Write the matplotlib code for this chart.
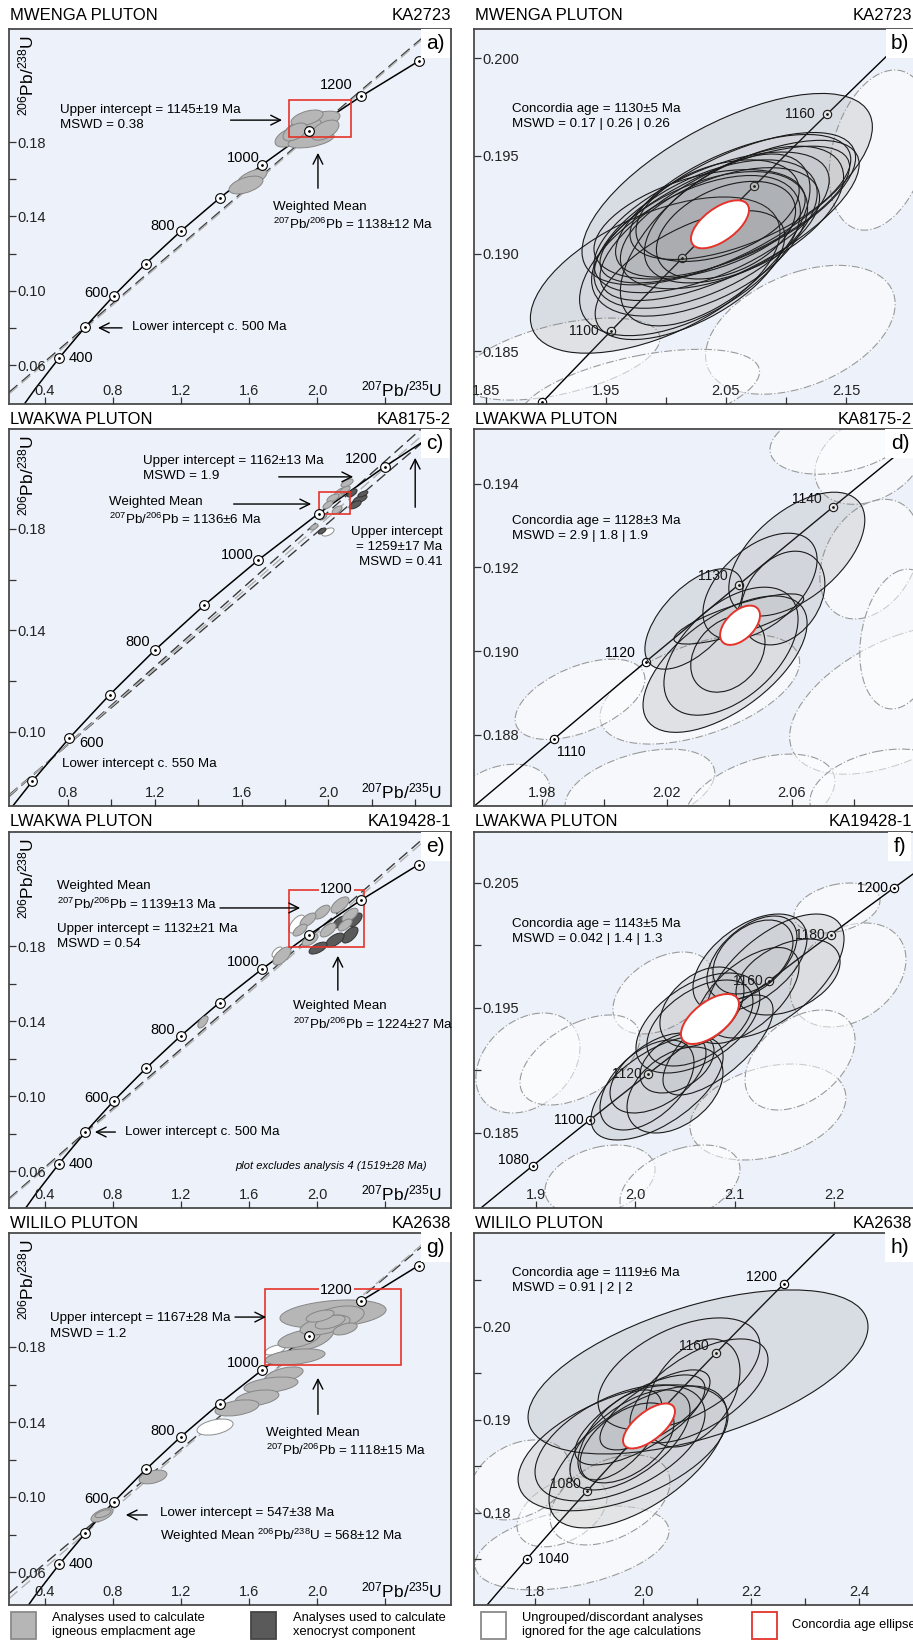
import numpy as np
import matplotlib
matplotlib.use("Agg")
import matplotlib.pyplot as plt
from matplotlib.patches import Ellipse, Rectangle, PathPatch
from matplotlib.path import Path

plt.rcParams["font.family"] = ["Liberation Sans Narrow", "Liberation Sans", "DejaVu Sans"]
plt.rcParams["mathtext.default"] = "regular"

W, H = 913, 1650
BG = "#edf2fa"
GREY = "#b6b6b6"
DARK = "#5a5a5a"
RED = "#e5332a"
FS = 9.6  # annotation size

# -----------------------------
# concordia (age in Ma, 207Pb/235U, 206Pb/238U)
# -----------------------------
CONC_AGES = [200, 300, 400, 500, 600, 700, 800, 900, 1000, 1100, 1200, 1300]
CONC_X = [0.2177, 0.3437, 0.4828, 0.6363, 0.8056, 0.9925, 1.1987, 1.4263, 1.6774, 1.9545, 2.2603, 2.5977]
CONC_Y = [0.03151, 0.04764, 0.06402, 0.08065, 0.09754, 0.11470, 0.13213, 0.14983, 0.16780, 0.18606, 0.20460, 0.22344]

FINE_AGES = [1000, 1020, 1040, 1050, 1060, 1070, 1080, 1090, 1100, 1110, 1120, 1130, 1140,
             1150, 1160, 1170, 1180, 1190, 1200, 1220, 1240, 1260, 1280]
FINE_X = [1.6774, 1.7307, 1.7850, 1.8126, 1.8404, 1.8685, 1.8969, 1.9256, 1.9545, 1.9838, 2.0133, 2.0431, 2.0732,
          2.1037, 2.1344, 2.1654, 2.1967, 2.2284, 2.2603, 2.3252, 2.3913, 2.4588, 2.5276]
FINE_Y = [0.16780, 0.17143, 0.17507, 0.17690, 0.17873, 0.18056, 0.18239, 0.18422, 0.18606, 0.18790, 0.18975, 0.19159, 0.19344,
          0.19530, 0.19715, 0.19901, 0.20087, 0.20274, 0.20460, 0.20835, 0.21210, 0.21587, 0.21964]

# discordia chords (lower intercept point, upper intercept point)
A_LINES = [((0.6363, 0.08065), (2.0884, 0.19437), "#3a3a3a"), ((0.6044, 0.0773), (2.1344, 0.19715), "#b0b0b0")]
C_LINES = [((0.7189, 0.08906), (2.1406, 0.19752), "#3a3a3a"), ((0.7189, 0.08906), (2.4554, 0.21568), "#3a3a3a"),
           ((0.7189, 0.08906), (2.3000, 0.20700), "#b0b0b0")]
E_LINES = [((0.6363, 0.08065), (2.0491, 0.19196), "#3a3a3a"), ((0.6044, 0.0773), (2.1344, 0.19715), "#b0b0b0")]
G_LINES = [((0.7138, 0.08856), (2.1560, 0.19845), "#3a3a3a"), ((0.6363, 0.08065), (2.1344, 0.19715), "#b0b0b0")]

# ellipses: (x, y, sx, sy, rho)
A_EMPL = [(1.618, 0.1607, 0.088, 0.0048, 0.6), (1.582, 0.1569, 0.100, 0.0048, 0.5),
          (1.988, 0.1902, 0.147, 0.0064, 0.6), (1.841, 0.1827, 0.088, 0.0054, 0.5),
          (1.965, 0.1811, 0.135, 0.0043, 0.5), (1.918, 0.1875, 0.106, 0.0054, 0.5),
          (2.047, 0.1864, 0.082, 0.0054, 0.5), (1.941, 0.1929, 0.094, 0.0043, 0.5),
          (1.871, 0.1854, 0.071, 0.0048, 0.5)]
A_BOX = (1.835, 0.1827, 2.200, 0.2026)

C_EMPL = [(2.054, 0.1942, 0.028, 0.0020, 0.6), (2.021, 0.1922, 0.028, 0.0016, 0.6),
          (2.077, 0.1954, 0.023, 0.0016, 0.6), (1.998, 0.1895, 0.023, 0.0016, 0.6),
          (2.086, 0.1981, 0.028, 0.0016, 0.6), (2.040, 0.1875, 0.023, 0.0016, 0.6),
          (1.975, 0.1847, 0.018, 0.0012, 0.6), (1.934, 0.1808, 0.018, 0.0012, 0.6)]
C_XENO = [(2.146, 0.1918, 0.032, 0.0016, 0.6), (2.123, 0.1895, 0.028, 0.0016, 0.6),
          (2.109, 0.1942, 0.023, 0.0016, 0.6), (2.159, 0.1938, 0.023, 0.0012, 0.6),
          (1.971, 0.1792, 0.018, 0.0012, 0.6)]
C_DISC = [(1.998, 0.1788, 0.028, 0.0016, 0.5)]
C_BOX = (1.957, 0.1859, 2.100, 0.1946)

E_EMPL = [(1.794, 0.1747, 0.053, 0.0048, 0.6), (1.329, 0.1395, 0.030, 0.0032, 0.6),
          (2.029, 0.1981, 0.047, 0.0037, 0.6), (2.135, 0.2019, 0.053, 0.0043, 0.6),
          (1.947, 0.1939, 0.047, 0.0037, 0.6), (2.194, 0.1965, 0.047, 0.0037, 0.6),
          (2.065, 0.1885, 0.047, 0.0037, 0.6), (2.165, 0.1912, 0.041, 0.0032, 0.6),
          (1.959, 0.1832, 0.047, 0.0032, 0.6), (1.900, 0.1885, 0.041, 0.0032, 0.6)]
E_XENO = [(2.194, 0.1859, 0.047, 0.0043, 0.6), (2.106, 0.1832, 0.053, 0.0037, 0.6),
          (2.006, 0.1789, 0.053, 0.0032, 0.6), (2.224, 0.1939, 0.041, 0.0037, 0.6),
          (2.135, 0.1928, 0.041, 0.0032, 0.6)]
E_DISC = [(1.882, 0.1917, 0.047, 0.0048, 0.6), (1.765, 0.1768, 0.030, 0.0027, 0.6)]
E_BOX = (1.835, 0.1795, 2.277, 0.2099)

G_EMPL = [(2.094, 0.1976, 0.312, 0.0075, 0.3), (2.118, 0.1955, 0.159, 0.0064, 0.4),
          (1.971, 0.1853, 0.129, 0.0069, 0.5), (1.894, 0.1843, 0.124, 0.0048, 0.5),
          (2.047, 0.1917, 0.147, 0.0053, 0.5), (2.077, 0.1933, 0.088, 0.0037, 0.5),
          (2.165, 0.1896, 0.071, 0.0032, 0.5), (2.018, 0.1965, 0.082, 0.0032, 0.5),
          (1.871, 0.1747, 0.176, 0.0043, 0.4), (1.806, 0.1651, 0.112, 0.0043, 0.5),
          (1.729, 0.1597, 0.159, 0.0043, 0.4), (1.647, 0.1528, 0.129, 0.0043, 0.4),
          (1.529, 0.1475, 0.129, 0.0043, 0.4), (1.035, 0.1107, 0.082, 0.0037, 0.4),
          (0.735, 0.0904, 0.065, 0.0037, 0.6), (0.741, 0.0911, 0.047, 0.0021, 0.6)]
G_DISC = [(1.400, 0.1373, 0.106, 0.0043, 0.4), (1.753, 0.1784, 0.059, 0.0027, 0.5)]
G_BOX = (1.694, 0.1704, 2.494, 0.2109)

B_EMPL = [(1.991, 0.1889, 0.104, 0.0040, 0.55), (2.051, 0.1933, 0.121, 0.0049, 0.65),
          (2.038, 0.1916, 0.098, 0.0036, 0.60), (2.033, 0.1910, 0.093, 0.0038, 0.55),
          (2.049, 0.1920, 0.104, 0.0035, 0.70), (2.028, 0.1905, 0.090, 0.0037, 0.50),
          (2.058, 0.1925, 0.100, 0.0037, 0.65), (2.045, 0.1913, 0.083, 0.0031, 0.50),
          (2.020, 0.1899, 0.092, 0.0041, 0.55), (2.062, 0.1929, 0.092, 0.0032, 0.60),
          (2.041, 0.1907, 0.079, 0.0044, 0.60), (2.053, 0.1917, 0.108, 0.0041, 0.70),
          (2.028, 0.1915, 0.088, 0.0028, 0.45), (2.065, 0.1920, 0.083, 0.0035, 0.55),
          (2.020, 0.1889, 0.079, 0.0033, 0.60), (2.043, 0.1922, 0.068, 0.0026, 0.40),
          (2.050, 0.1912, 0.058, 0.0025, 0.40)]
B_DISC = [(2.112, 0.1861, 0.079, 0.0033, 0.4), (1.912, 0.1846, 0.083, 0.0021, 0.5),
          (2.178, 0.1953, 0.042, 0.0041, 0.3), (1.978, 0.1828, 0.100, 0.0023, 0.5)]
B_RED = (2.045, 0.1915, 0.0242, 0.00123, 0.6)

D_EMPL = [(2.0617, 0.19232, 0.0218, 0.00148, 0.55), (2.0499, 0.19155, 0.0183, 0.00127, 0.50),
          (2.0287, 0.19077, 0.0157, 0.00120, 0.60), (2.0387, 0.18969, 0.0263, 0.00163, 0.60),
          (2.0406, 0.19000, 0.0215, 0.00153, 0.50), (2.0396, 0.18993, 0.0119, 0.00091, 0.30),
          (2.0572, 0.19127, 0.0135, 0.00112, 0.30), (2.0431, 0.19077, 0.0208, 0.00060, 0.80)]
D_DISC = [(2.0306, 0.18909, 0.0320, 0.00131, 0.5), (2.0851, 0.19459, 0.0176, 0.00108, 0.3),
          (2.0755, 0.19507, 0.0224, 0.00084, 0.3), (2.0947, 0.18885, 0.0353, 0.00179, 0.5),
          (2.0114, 0.18670, 0.0240, 0.00096, 0.4), (2.0499, 0.18646, 0.0240, 0.00108, 0.4),
          (1.9922, 0.18885, 0.0208, 0.00096, 0.5), (2.0883, 0.18670, 0.0224, 0.00096, 0.3),
          (1.9665, 0.18646, 0.0160, 0.00084, 0.3), (2.0851, 0.19220, 0.0160, 0.00143, 0.3),
          (2.0947, 0.19029, 0.0128, 0.00167, 0.2)]
D_RED = (2.0435, 0.19062, 0.0064, 0.00047, 0.5)

F_EMPL = [(2.1407, 0.19756, 0.0695, 0.00496, 0.6), (2.1155, 0.19860, 0.0574, 0.00392, 0.5),
          (2.1175, 0.19900, 0.0453, 0.00336, 0.5), (2.1538, 0.19748, 0.0524, 0.00304, 0.4),
          (2.1125, 0.19600, 0.0524, 0.00384, 0.6), (2.1185, 0.19908, 0.0403, 0.00296, 0.4),
          (2.0631, 0.19380, 0.0624, 0.00400, 0.5), (2.0651, 0.19380, 0.0534, 0.00344, 0.5),
          (2.0671, 0.19508, 0.0423, 0.00320, 0.4), (2.0833, 0.19204, 0.0554, 0.00400, 0.7),
          (2.0219, 0.18860, 0.0665, 0.00416, 0.6), (2.0118, 0.18884, 0.0473, 0.00360, 0.5),
          (2.0400, 0.18844, 0.0483, 0.00344, 0.4), (2.0229, 0.18980, 0.0483, 0.00320, 0.5),
          (2.0420, 0.19060, 0.0373, 0.00240, 0.4)]
F_DISC = [(1.8919, 0.19060, 0.0524, 0.00400, 0.3), (2.0279, 0.19620, 0.0504, 0.00328, 0.4),
          (2.2142, 0.19764, 0.0584, 0.00416, 0.3), (2.2031, 0.20300, 0.0433, 0.00200, 0.3),
          (2.1336, 0.18668, 0.0785, 0.00384, 0.3), (1.9645, 0.18124, 0.0554, 0.00280, 0.3),
          (2.0450, 0.18084, 0.0604, 0.00320, 0.4), (1.9443, 0.19084, 0.0604, 0.00360, 0.5),
          (2.1659, 0.19084, 0.0554, 0.00400, 0.4)]
F_RED = (2.0752, 0.19412, 0.0292, 0.0020, 0.6)

H_EMPL = [(2.1019, 0.19516, 0.3148, 0.00882, 0.55), (1.9630, 0.18700, 0.1944, 0.00677, 0.50),
          (1.9907, 0.18602, 0.1648, 0.00763, 0.60), (2.1037, 0.19312, 0.1278, 0.00559, 0.60),
          (2.0667, 0.19495, 0.1500, 0.00602, 0.50), (1.9574, 0.18753, 0.1574, 0.00624, 0.50),
          (1.9759, 0.18785, 0.1111, 0.00538, 0.60), (1.9704, 0.18753, 0.0870, 0.00430, 0.50),
          (2.0926, 0.19290, 0.0870, 0.00581, 0.40), (1.9944, 0.19000, 0.1204, 0.00484, 0.70),
          (2.0222, 0.19108, 0.1019, 0.00430, 0.70), (1.9574, 0.18839, 0.0778, 0.00484, 0.60)]
H_DISC = [(1.8685, 0.17624, 0.1796, 0.00452, 0.4), (1.8500, 0.18011, 0.0833, 0.00376, 0.4),
          (1.7722, 0.18355, 0.0926, 0.00430, 0.3), (1.9389, 0.18140, 0.1111, 0.00484, 0.4)]
H_RED = (2.0111, 0.18935, 0.0481, 0.00242, 0.65)

LEFT_TICK_AGES = [400, 500, 600, 700, 800, 900, 1000, 1100, 1200, 1300]
LEFT_LABELS = {400: (6.5, 0, "left", "center"), 600: (-3.5, -3, "right", "bottom"),
               800: (-4, -1, "right", "bottom"), 1000: (-2, 0, "right", "bottom"),
               1200: (-6, 3, "right", "bottom")}
C_LABELS = {600: (7, -3.5, "left", "center"), 800: (-3.5, 1, "right", "bottom"),
            1000: (-3.5, -1.5, "right", "bottom"), 1200: (-5, 0.5, "right", "bottom")}

fig = plt.figure(figsize=(W / 100, H / 100), dpi=100)


def box(l, t, r, b):
    return fig.add_axes([l / W, 1 - b / H, (r - l) / W, (b - t) / H])


def make_ellipse(e, **kw):
    x, y, sx, sy, rho = e
    cov = np.array([[sx * sx, rho * sx * sy], [rho * sx * sy, sy * sy]])
    vals, vecs = np.linalg.eigh(cov)
    ang = np.degrees(np.arctan2(vecs[1, 1], vecs[0, 1]))
    return Ellipse((x, y), 2 * np.sqrt(vals[1]), 2 * np.sqrt(vals[0]), angle=ang, **kw)


def ellipse(ax, e, **kw):
    ax.add_patch(make_ellipse(e, **kw))


def union_fill(ax, ells, fc, z):
    # one compound path -> overlapping parts are filled only once
    paths = []
    for e in ells:
        p = make_ellipse(e)
        paths.append(p.get_patch_transform().transform_path(p.get_path()))
    ax.add_patch(PathPatch(Path.make_compound_path(*paths), fc=fc, ec="none", zorder=z))


def frame(ax, xlim, ylim, xt, xtl, xmin, yt, ytl, ymin):
    ax.set_facecolor(BG)
    ax.set_xlim(*xlim)
    ax.set_ylim(*ylim)
    ax.set_xticks(xt, xtl)
    ax.set_xticks(xmin, minor=True)
    ax.set_yticks(yt, ytl)
    ax.set_yticks(ymin, minor=True)
    ax.tick_params(which="both", direction="in", length=5, width=0.9, color="#333333",
                   labelsize=10.5, labelcolor="#222222")
    ax.tick_params(axis="x", which="both", pad=-4.5)
    ax.tick_params(axis="y", which="both", pad=-6)
    for s in ax.spines.values():
        s.set_color("#4a4a4a")
        s.set_linewidth(1.3)
    ax.xaxis.set_zorder(6)
    ax.yaxis.set_zorder(6)
    for lb in ax.get_xticklabels():
        lb.set_va("bottom")
    for lb in ax.get_yticklabels():
        lb.set_ha("left")


def titles(l, r, y, left, right):
    fig.text(l / W, 1 - y / H, left, fontsize=12, va="center", ha="left")
    fig.text(r / W, 1 - y / H, right, fontsize=12, va="center", ha="right")


def letter(ax, fx, txt):
    ax.text(fx, 0.962, txt, transform=ax.transAxes, fontsize=15, ha="center", va="center",
            bbox=dict(boxstyle="square,pad=0.25", fc="white", ec="none"), zorder=10)


def arrow(ax, tail, head):
    ax.annotate("", xy=head, xytext=tail, xycoords="axes fraction", textcoords="axes fraction",
                arrowprops=dict(arrowstyle="->,head_length=0.7,head_width=0.35", lw=1.0, color="black"),
                zorder=8)


def note(ax, fx, fy, txt, ha="left", ls=1.35, **kw):
    ax.text(fx, fy, txt, transform=ax.transAxes, fontsize=FS, ha=ha, va="center",
            linespacing=ls, multialignment=ha, zorder=8, **kw)


def left_panel(ax, xlim, ylim, xt, xtl, xmin, yt, ymin, lines, empl, xeno, disc, rbox, labels):
    frame(ax, xlim, ylim, xt, xtl, xmin, yt, ["%.2f" % v for v in yt], ymin)
    for p1, p2, c in lines:
        ax.axline(p1, p2, color=c, lw=1.0, ls=(0, (8, 4)), zorder=1.5)
    ax.plot(CONC_X, CONC_Y, color="black", lw=1.1, zorder=2)
    for e in disc:
        ellipse(ax, e, fc="white", ec="#8c8c8c", lw=0.7, zorder=3)
    for e in xeno:
        ellipse(ax, e, fc=DARK, ec="#333333", lw=0.7, zorder=3.1)
    for e in empl:
        ellipse(ax, e, fc=GREY, ec="#858585", lw=0.7, zorder=3.2)
    if rbox is not None:
        x0, y0, x1, y1 = rbox
        ax.add_patch(Rectangle((x0, y0), x1 - x0, y1 - y0, fill=False, ec=RED, lw=1.2, zorder=4))
    for a in LEFT_TICK_AGES:
        i = CONC_AGES.index(a)
        ax.plot(CONC_X[i], CONC_Y[i], "o", ms=7, mfc="white", mec="black", mew=0.8, zorder=5)
        ax.plot(CONC_X[i], CONC_Y[i], ".", ms=2, color="black", zorder=5.1)
    for a, (dx, dy, ha, va) in labels.items():
        i = CONC_AGES.index(a)
        kw = {}
        if a == 1200:
            kw["bbox"] = dict(boxstyle="square,pad=0.05", fc=BG, ec="none")
        ax.annotate(str(a), (CONC_X[i], CONC_Y[i]), xytext=(dx, dy), textcoords="offset points",
                    ha=ha, va=va, fontsize=10.5, zorder=5.2, **kw)
    ax.text(0.04, 0.985, r"$^{206}$Pb/$^{238}$U", transform=ax.transAxes, rotation=90,
            ha="center", va="top", fontsize=12.5, zorder=8)
    ax.text(0.98, 0.012, r"$^{207}$Pb/$^{235}$U", transform=ax.transAxes,
            ha="right", va="bottom", fontsize=12.5, zorder=8)


def right_panel(ax, xlim, ylim, xt, xtl, xmin, yt, ytl, ymin, empl, disc, red, ticks, labels, txt, fy):
    frame(ax, xlim, ylim, xt, xtl, xmin, yt, ytl, ymin)
    ax.spines["right"].set_visible(False)
    for e in disc:
        ellipse(ax, e, fc=(1, 1, 1, 0.5), ec="#9a9a9a", lw=0.8, ls=(0, (7, 2, 1, 2)), zorder=1.5)
    ax.plot(FINE_X, FINE_Y, color="black", lw=1.0, zorder=2)
    for a in ticks:
        i = FINE_AGES.index(a)
        ax.plot(FINE_X[i], FINE_Y[i], "o", ms=6, mfc="white", mec="black", mew=0.8, zorder=2.2)
        ax.plot(FINE_X[i], FINE_Y[i], ".", ms=2, color="black", zorder=2.3)
        pos = labels.get(a, labels["default"])
        if pos is None:
            continue
        dx, dy, ha, va = pos
        ax.annotate(str(a), (FINE_X[i], FINE_Y[i]), xytext=(dx, dy), textcoords="offset points",
                    ha=ha, va=va, fontsize=10, zorder=2.3)
    union_fill(ax, empl, (0.55, 0.55, 0.55, 0.17), 2.9)
    for e in empl:
        ellipse(ax, e, fc=(0.35, 0.35, 0.35, 0.025), ec="#1a1a1a", lw=0.8, zorder=3)
    ellipse(ax, red, fc="white", ec=RED, lw=1.4, zorder=4)
    note(ax, 0.085, fy, txt)


# -----------------------------
# panels
# -----------------------------
LX_A = (0.188, 2.788)
LY_A = (0.0393, 0.2407)
XT_A = [0.4, 0.8, 1.2, 1.6, 2.0, 2.4]
XTL_A = ["0.4", "0.8", "1.2", "1.6", "2.0", ""]
YT_A = [0.06, 0.10, 0.14, 0.18]
YM_A = [0.08, 0.12, 0.16]

# a)
ax = box(9, 29, 451, 404)
titles(10, 451, 16, "MWENGA PLUTON", "KA2723")
left_panel(ax, LX_A, LY_A, XT_A, XTL_A, [], YT_A, YM_A, A_LINES, A_EMPL, [], [], A_BOX, LEFT_LABELS)
note(ax, 0.115, 0.764, "Upper intercept = 1145±19 Ma\nMSWD = 0.38")
arrow(ax, (0.495, 0.757), (0.624, 0.757))
arrow(ax, (0.699, 0.568), (0.699, 0.677))
note(ax, 0.597, 0.500, "Weighted Mean\n$^{207}$Pb/$^{206}$Pb = 1138±12 Ma")
note(ax, 0.278, 0.205, "Lower intercept c. 500 Ma")
arrow(ax, (0.262, 0.203), (0.195, 0.203))
letter(ax, 0.964, "a)")

# b)
ax = box(474, 29, 920, 404)
titles(475, 912, 16, "MWENGA PLUTON", "KA2723")
right_panel(ax, (1.84, 2.2117), (0.1823, 0.2015),
            [1.85, 1.95, 2.05, 2.15], ["1.85", "1.95", "2.05", "2.15"], [2.00, 2.10],
            [0.185, 0.190, 0.195, 0.200], ["0.185", "0.190", "0.195", "0.200"], [],
            B_EMPL, B_DISC, B_RED, [1080, 1100, 1120, 1140, 1160],
            {"default": (-9, 0, "right", "center"), 1080: None, 1120: None, 1140: None},
            "Concordia age = 1130±5 Ma\nMSWD = 0.17 | 0.26 | 0.26", 0.766)
letter(ax, 0.955, "b)")

# c)
ax = box(9, 429, 451, 806)
titles(10, 451, 420, "LWAKWA PLUTON", "KA8175-2")
left_panel(ax, (0.528, 2.565), (0.0708, 0.2194), [0.8, 1.2, 1.6, 2.0, 2.4],
           ["0.8", "1.2", "1.6", "2.0", ""], [1.0, 1.4, 1.8, 2.2],
           [0.10, 0.14, 0.18], [0.12, 0.16], C_LINES, C_EMPL, C_XENO, C_DISC, C_BOX, C_LABELS)
note(ax, 0.303, 0.895, "Upper intercept = 1162±13 Ma\nMSWD = 1.9")
arrow(ax, (0.604, 0.873), (0.785, 0.873))
note(ax, 0.226, 0.781, "Weighted Mean\n$^{207}$Pb/$^{206}$Pb = 1136±6 Ma")
arrow(ax, (0.502, 0.801), (0.690, 0.801))
arrow(ax, (0.919, 0.785), (0.919, 0.931))
note(ax, 0.980, 0.687, "Upper intercept\n= 1259±17 Ma\nMSWD = 0.41", ha="right")
note(ax, 0.120, 0.111, "Lower intercept c. 550 Ma")
letter(ax, 0.964, "c)")

# d)
ax = box(474, 429, 920, 806)
titles(475, 912, 420, "LWAKWA PLUTON", "KA8175-2")
right_panel(ax, (1.9582, 2.1012), (0.1863, 0.19531),
            [1.98, 2.02, 2.06], ["1.98", "2.02", "2.06"], [2.00, 2.04, 2.08],
            [0.188, 0.190, 0.192, 0.194], ["0.188", "0.190", "0.192", "0.194"], [],
            D_EMPL, D_DISC, D_RED, [1110, 1120, 1130, 1140],
            {"default": (-8, 1, "right", "bottom"), 1110: (2, -4, "left", "top")},
            "Concordia age = 1128±3 Ma\nMSWD = 2.9 | 1.8 | 1.9", 0.736)
letter(ax, 0.955, "d)")

# e)
ax = box(9, 832, 451, 1208)
titles(10, 451, 822, "LWAKWA PLUTON", "KA19428-1")
left_panel(ax, LX_A, (0.0403, 0.2408), XT_A, XTL_A, [], YT_A, YM_A,
           E_LINES, E_EMPL, E_XENO, E_DISC, E_BOX, LEFT_LABELS)
note(ax, 0.109, 0.830, "Weighted Mean\n$^{207}$Pb/$^{206}$Pb = 1139±13 Ma")
note(ax, 0.109, 0.722, "Upper intercept = 1132±21 Ma\nMSWD = 0.54")
arrow(ax, (0.471, 0.798), (0.665, 0.798))
arrow(ax, (0.744, 0.572), (0.744, 0.678))
note(ax, 0.643, 0.511, "Weighted Mean\n$^{207}$Pb/$^{206}$Pb = 1224±27 Ma")
note(ax, 0.262, 0.202, "Lower intercept c. 500 Ma")
arrow(ax, (0.247, 0.202), (0.188, 0.202))
ax.text(0.946, 0.112, "plot excludes analysis 4 (1519±28 Ma)", transform=ax.transAxes,
        fontsize=8, style="italic", ha="right", va="center", zorder=8)
letter(ax, 0.964, "e)")

# f)
ax = box(474, 832, 920, 1208)
titles(475, 912, 822, "LWAKWA PLUTON", "KA19428-1")
right_panel(ax, (1.8376, 2.2867), (0.179, 0.20908),
            [1.9, 2.0, 2.1, 2.2], ["1.9", "2.0", "2.1", "2.2"], [],
            [0.185, 0.195, 0.205], ["0.185", "0.195", "0.205"], [0.190, 0.200],
            F_EMPL, F_DISC, F_RED, [1080, 1100, 1120, 1140, 1160, 1180, 1200],
            {"default": (-4.5, 0, "right", "center"), 1080: (-3, -1, "right", "bottom"), 1140: None},
            "Concordia age = 1143±5 Ma\nMSWD = 0.042 | 1.4 | 1.3", 0.736)
letter(ax, 0.955, "f)")

# g)
ax = box(9, 1233, 451, 1605)
titles(10, 451, 1223, "WILILO PLUTON", "KA2638")
left_panel(ax, LX_A, (0.0424, 0.2408), XT_A, XTL_A, [], YT_A, YM_A,
           G_LINES, G_EMPL, [], G_DISC, G_BOX, LEFT_LABELS)
note(ax, 0.093, 0.750, "Upper intercept = 1167±28 Ma\nMSWD = 1.2")
arrow(ax, (0.505, 0.774), (0.588, 0.774))
arrow(ax, (0.699, 0.505), (0.699, 0.618))
note(ax, 0.581, 0.437, "Weighted Mean\n$^{207}$Pb/$^{206}$Pb = 1118±15 Ma")
note(ax, 0.342, 0.212, "Lower intercept = 547±38 Ma\nWeighted Mean $^{206}$Pb/$^{238}$U = 568±12 Ma", ls=1.6)
arrow(ax, (0.319, 0.242), (0.258, 0.242))
letter(ax, 0.964, "g)")

# h)
ax = box(474, 1233, 920, 1605)
titles(475, 912, 1223, "WILILO PLUTON", "KA2638")
right_panel(ax, (1.687, 2.513), (0.1701, 0.2101),
            [1.8, 2.0, 2.2, 2.4], ["1.8", "2.0", "2.2", "2.4"], [1.9, 2.1, 2.3],
            [0.18, 0.19, 0.20], ["0.18", "0.19", "0.20"], [0.175, 0.185, 0.195, 0.205],
            H_EMPL, H_DISC, H_RED, [1040, 1080, 1120, 1160, 1200],
            {"default": (-5, 0, "right", "bottom"), 1040: (8, 0, "left", "center"), 1120: None},
            "Concordia age = 1119±6 Ma\nMSWD = 0.91 | 2 | 2", 0.872)
letter(ax, 0.955, "h)")

# -----------------------------
# legend
# -----------------------------
LEGEND = [("Analyses used to calculate\nigneous emplacment age", GREY, "#8a8a8a", 11, 52),
          ("Analyses used to calculate\nxenocryst component", DARK, "#444444", 251, 293),
          ("Ungrouped/discordant analyses\nignored for the age calculations", "white", "#8a8a8a", 481, 522),
          ("Concordia age ellipse", "white", RED, 752, 792)]
for txt, fc, ec, sx, tx in LEGEND:
    fig.add_artist(Rectangle((sx / W, 1 - 1639 / H), 25 / W, 27 / H, transform=fig.transFigure,
                             fc=fc, ec=ec, lw=1.3))
    fig.text(tx / W, 1 - 1625 / H, txt, fontsize=9.3, va="center", ha="left", linespacing=1.15)

fig.savefig("out.png", dpi=100)
